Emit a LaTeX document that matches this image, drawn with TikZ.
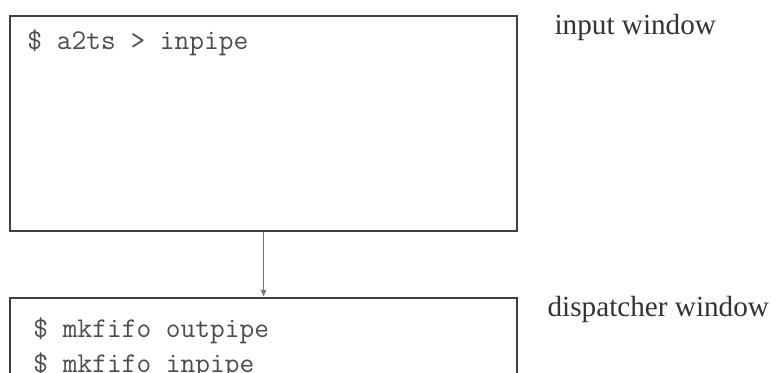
\documentclass[tikz,border=0pt]{standalone}
\usepackage{fontspec}
\setmainfont{Liberation Serif}
\usetikzlibrary{positioning,arrows.meta,calc}

\begin{document}
\begin{tikzpicture}[
    x=0.5pt, y=-0.5pt,
    window/.style={rectangle, draw=black!75, line width=1.1pt,
        minimum width=253.5pt, anchor=north west, inner sep=0pt},
    cmd/.style={font=\ttfamily\fontsize{14.3}{17}\selectfont, text=black!70,
        anchor=base west, inner sep=0pt},
    title/.style={font=\fontsize{14.6}{17}\selectfont, text=black!80,
        anchor=base west, inner sep=0pt},
    arrow/.style={-{Latex[length=3.5pt,width=3pt]}, draw=black!55, line width=0.5pt}
]
\clip (0,0) rectangle (775,373);

% Windows
\node[window, minimum height=107.5pt] (inwin) at (9,15) {};
\node[window, minimum height=70pt] (dispwin) at (9,297) {};

% Commands typed in the windows
\node[cmd] (cmdts) at ($(inwin.north west)+(18,35)$) {\$ a2ts > inpipe};
\node[cmd] (cmdout) at ($(dispwin.north west)+(24,40)$) {\$ mkfifo outpipe};
\node[cmd] (cmdin) at ($(cmdout.base west)+(0,35)$) {\$ mkfifo inpipe};

% Window names
\node[title] (inlabel) at ($(inwin.north east)+(36,20)$) {input window};
\node[title] (displabel) at ($(dispwin.north east)+(29,19)$) {dispatcher window};

% Pipe
\draw[arrow] (inwin.south) -- (dispwin.north);

\end{tikzpicture}
\end{document}
